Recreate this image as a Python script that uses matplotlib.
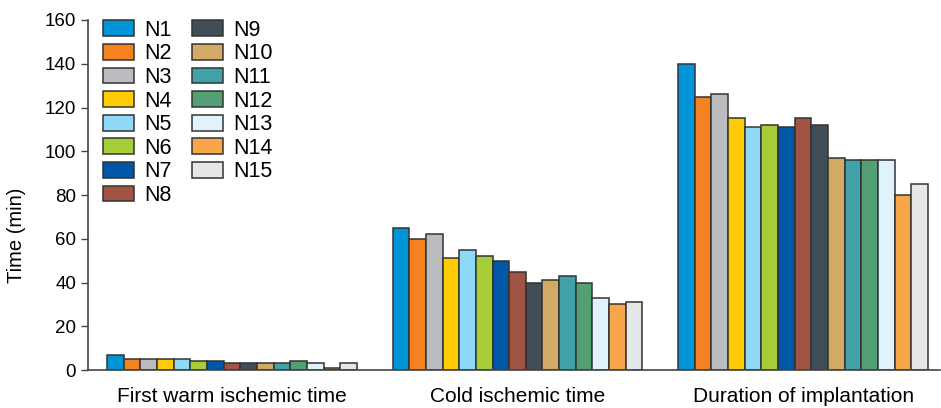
import numpy as np
import matplotlib.pyplot as plt

plt.rcParams['font.family'] = ['Liberation Sans', 'DejaVu Sans']

categories = ["First warm ischemic time", "Cold ischemic time", "Duration of implantation"]
names = ["N%d" % i for i in range(1, 16)]
warm = [7, 5, 5, 5, 5, 4, 4, 3, 3, 3, 3, 4, 3, 1, 3]
cold = [65, 60, 62, 51, 55, 52, 50, 45, 40, 41, 43, 40, 33, 30, 31]
implant = [140, 125, 126, 115, 111, 112, 111, 115, 112, 97, 96, 96, 96, 80, 85]
colors = ["#0095D9", "#F58220", "#BBBCBF", "#FFCB05", "#8ED8F8", "#A6CE39", "#0057A8",
          "#A25444", "#414E57", "#D1AB66", "#41A2AA", "#52A073", "#E0F2FB", "#F9A54A", "#E5E6E8"]

data = np.array([warm, cold, implant])  # rows = categories

fig = plt.figure(figsize=(9.41, 4.08), dpi=100)
ax = fig.add_axes([0.0935, 0.093, 0.905, 0.858])

x = np.arange(len(categories))
w = 0.875 / 15
for i, name in enumerate(names):
    ax.bar(x - 7 * w + i * w, data[:, i], w, color=colors[i], edgecolor="#333333",
           linewidth=1.1, label=name)

ax.set_xlim(-0.504, 2.478)
ax.set_ylim(0, 160)
ax.set_yticks(range(0, 161, 20))
ax.set_xticks(x)
ax.set_xticklabels(categories)
ax.tick_params(axis="x", length=0, labelsize=15, pad=12)
ax.tick_params(axis="y", length=5, width=1, color="#444444", labelsize=13.5)
ax.set_ylabel("Time (min)", fontsize=14.5)
ax.yaxis.set_label_coords(-0.073, 0.386)
for s in ["top", "right"]:
    ax.spines[s].set_visible(False)
for s in ["left", "bottom"]:
    ax.spines[s].set_color("#444444")
    ax.spines[s].set_linewidth(1.2)

ax.legend(ncol=2, loc="upper left", bbox_to_anchor=(0.0075, 1.025), frameon=False,
          fontsize=15.5, handlelength=1.45, handleheight=0.75, handletextpad=0.45,
          labelspacing=0.12, columnspacing=0.97, borderaxespad=0)

fig.savefig("out.png", dpi=100)
